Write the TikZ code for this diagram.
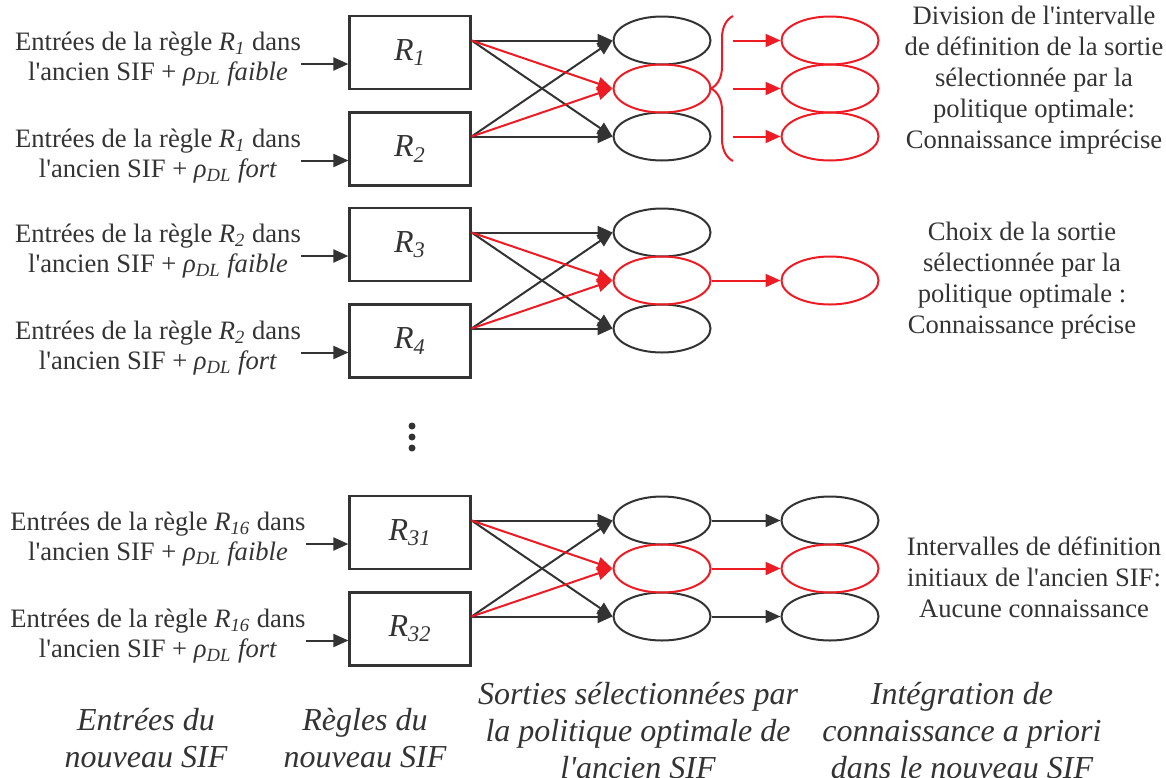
\documentclass[tikz,border=0pt]{standalone}
\usepackage{fontspec}
\setmainfont{Liberation Serif}
\usetikzlibrary{calc, arrows.meta, shapes.geometric, decorations.pathreplacing}
\definecolor{cbk}{HTML}{333333}
\definecolor{cred}{HTML}{ED1C24}
\newcommand{\apos}{\textquotesingle}

\begin{document}
\begin{tikzpicture}[x=0.5pt, y=-0.5pt,
    arr/.style={-{Triangle[length=7.5pt, width=6.5pt]}, line width=1pt, draw=cbk},
    rarr/.style={arr, draw=cred},
    rulebox/.style={draw=cbk, line width=1.1pt, minimum width=60.5pt, minimum height=36.5pt, font=\fontsize{16}{18}\selectfont\itshape, text=cbk},
    outset/.style={ellipse, draw=cbk, line width=1pt, minimum width=48.5pt, minimum height=24pt, inner sep=0pt},
    intext/.style={align=center, inner sep=0pt, font=\fontsize{13.3}{15}\selectfont, text=cbk},
    note/.style={intext, font=\fontsize{13.3}{15.5}\selectfont},
    caption/.style={align=center, inner sep=0pt, font=\fontsize{16}{18.5}\selectfont\itshape, text=cbk}]
    \useasboundingbox (0,0) rectangle (1166,777);
    % three groups of rules
    \foreach \dy/\ri/\ra/\rb [count=\g] in {0/1/1/2, 192/2/3/4, 480/16/31/32} {
        \node[intext] (ina\g) at (158, 59+\dy) {Entrées de la règle \textit{R\textsubscript{\ri}} dans\\l\apos ancien SIF + \textit{ρ\textsubscript{DL} faible}};
        \node[intext] (inb\g) at (158, 156+\dy) {Entrées de la règle \textit{R\textsubscript{\ri}} dans\\l\apos ancien SIF + \textit{ρ\textsubscript{DL} fort}};
        \node[rulebox] (ra\g) at (410, 52.5+\dy) {R\textsubscript{\ra}};
        \node[rulebox] (rb\g) at (410, 149+\dy) {R\textsubscript{\rb}};
        \node[outset] (o\g1) at (662, 40.5+\dy) {};
        \node[outset] (o\g3) at (662, 136.5+\dy) {};
        \node[outset, draw=cred] (o\g2) at (662, 88.5+\dy) {};
        \coordinate (pa\g) at ($(ra\g.west)+(0,11.5)$);
        \coordinate (pb\g) at ($(rb\g.west)+(0,11.5)$);
        \draw[arr] (ina\g.east |- pa\g) -- (pa\g);
        \draw[arr] (inb\g.east |- pb\g) -- (pb\g);
        \coordinate (sa\g) at (ra\g.east |- o\g1);
        \coordinate (sb\g) at (rb\g.east |- o\g3);
        \foreach \k in {1,3} {
            \draw[arr] (sa\g) -- (o\g\k.west);
            \draw[arr] (sb\g) -- (o\g\k.west);
        }
        \draw[rarr] (sa\g) -- (o\g2.west);
        \draw[rarr] (sb\g) -- (o\g2.west);
    }
    % imprecise knowledge
    \foreach \k/\y in {1/40.5, 2/88.5, 3/136.5} \node[outset, draw=cred] (p1\k) at (830, \y) {};
    \coordinate (bt) at (733, 16);
    \coordinate (bb) at (733, 161);
    \draw[cred, line width=1pt, decorate, decoration={brace, amplitude=11pt}] (bb) -- (bt);
    \foreach \k in {1,2,3} \draw[rarr] (bt |- p1\k) -- (p1\k.west);
    % precise knowledge
    \node[outset, draw=cred] (p22) at (830, 280.5) {};
    \draw[rarr] (o22) -- (p22);
    % no knowledge
    \node[outset] (p31) at (830, 520.5) {};
    \node[outset] (p33) at (830, 616.5) {};
    \node[outset, draw=cred] (p32) at (830, 568.5) {};
    \draw[arr] (o31) -- (p31);
    \draw[arr] (o33) -- (p33);
    \draw[rarr] (o32) -- (p32);
    \foreach \y in {426, 437, 448} \fill[cbk] (412, \y) circle[radius=1.75pt];
    \node[note] (n1) at (1034, 80) {Division de l\apos intervalle\\de définition de la sortie\\sélectionnée par la\\politique optimale:\\Connaissance imprécise};
    \node[note] (n2) at (1022, 281) {Choix de la sortie\\sélectionnée par la\\politique optimale :\\Connaissance précise};
    \node[note] (n3) at (1034, 577) {Intervalles de définition\\initiaux de l\apos ancien SIF:\\Aucune connaissance};
    \node[caption] (c1) at (146, 738) {Entrées du\\nouveau SIF};
    \node[caption] (c2) at (365, 738) {Règles du\\nouveau SIF};
    \node[caption] (c3) at (638, 731) {Sorties sélectionnées par\\la politique optimale de\\l\apos ancien SIF};
    \node[caption] (c4) at (962, 731) {Intégration de\\connaissance a priori\\dans le nouveau SIF};
\end{tikzpicture}
\end{document}
